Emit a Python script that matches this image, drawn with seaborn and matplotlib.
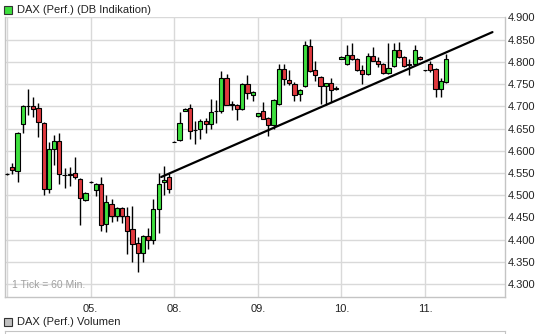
import matplotlib
matplotlib.use("Agg")
import matplotlib.pyplot as plt
from matplotlib.patches import Rectangle
import seaborn as sns
import numpy as np
import pandas as pd

# ---- data (hourly candles, index = candle number) ----
opens = [4547, 4563, 4554, 4661, 4700, 4700, 4697, 4663, 4515, 4603, 4622, 4546, 4546, 4551, 4537, 4490,
         4530, 4511, 4525, 4435, 4481, 4454, 4471, 4454, 4423, 4393, 4369, 4409, 4400, 4468, 4530, 4540,
         4620, 4624, 4690, 4697, 4646, 4648, 4668, 4660, 4690, 4690, 4764, 4704, 4704, 4693, 4751, 4725,
         4678, 4690, 4674, 4657, 4706, 4785, 4760, 4751, 4728, 4745, 4835, 4781, 4766, 4745, 4752, 4740,
         4807, 4796, 4816, 4806, 4782, 4773, 4813, 4803, 4796, 4775, 4790, 4827, 4811, 4792, 4796, 4811,
         4781, 4796, 4784, 4740, 4755]
highs = [4549, 4573, 4643, 4703, 4740, 4722, 4707, 4665, 4620, 4635, 4641, 4561, 4563, 4585, 4539, 4508,
         4531, 4527, 4540, 4500, 4491, 4474, 4474, 4474, 4475, 4406, 4411, 4427, 4491, 4549, 4565, 4549,
         4622, 4687, 4696, 4706, 4668, 4672, 4674, 4717, 4715, 4779, 4773, 4713, 4706, 4752, 4770, 4734,
         4686, 4710, 4676, 4717, 4796, 4796, 4781, 4755, 4738, 4848, 4852, 4803, 4768, 4753, 4764, 4745,
         4814, 4837, 4842, 4808, 4792, 4820, 4833, 4811, 4798, 4843, 4842, 4845, 4813, 4807, 4837, 4813,
         4782, 4803, 4786, 4764, 4818]
lows = [4545, 4547, 4529, 4639, 4680, 4676, 4631, 4500, 4505, 4567, 4526, 4516, 4520, 4536, 4434, 4487,
        4527, 4498, 4419, 4418, 4440, 4442, 4438, 4367, 4350, 4327, 4350, 4380, 4391, 4414, 4500, 4504,
        4619, 4623, 4689, 4626, 4616, 4627, 4640, 4650, 4662, 4684, 4702, 4691, 4670, 4692, 4717, 4713,
        4677, 4672, 4633, 4650, 4704, 4747, 4747, 4713, 4713, 4743, 4777, 4758, 4706, 4704, 4710, 4736,
        4806, 4792, 4804, 4780, 4751, 4771, 4801, 4789, 4773, 4773, 4788, 4809, 4788, 4770, 4794, 4805,
        4780, 4777, 4721, 4721, 4753]
closes = [4547, 4556, 4641, 4700, 4701, 4695, 4665, 4513, 4603, 4622, 4547, 4546, 4547, 4540, 4493, 4506,
          4530, 4525, 4432, 4484, 4453, 4471, 4454, 4420, 4391, 4369, 4409, 4399, 4468, 4526, 4535, 4513,
          4620, 4663, 4695, 4644, 4646, 4667, 4661, 4687, 4690, 4764, 4704, 4704, 4693, 4751, 4730, 4732,
          4684, 4672, 4659, 4715, 4785, 4762, 4752, 4726, 4736, 4837, 4779, 4770, 4745, 4752, 4736, 4740,
          4812, 4816, 4806, 4782, 4773, 4813, 4803, 4796, 4775, 4786, 4827, 4811, 4790, 4796, 4827, 4807,
          4781, 4782, 4740, 4756, 4807]

day_start_idx = [0, 16, 32, 48, 64, 80]
day_labels = ["", "05.", "08.", "09.", "10.", "11."]
y_ticks = [4300, 4350, 4400, 4450, 4500, 4550, 4600, 4650, 4700, 4750, 4800, 4850, 4900]
y_labels = ["4.300", "4.350", "4.400", "4.450", "4.500", "4.550", "4.600", "4.650",
            "4.700", "4.750", "4.800", "4.850", "4.900"]
trend_x = [29.5, 92.9]
trend_y = [4541, 4867]

GREEN = "#3ee03e"
RED = "#e0393e"
GRID = "#d9d9d9"
FRAME = "#c4c4c4"

sns.set_style("white")
plt.rcParams["font.family"] = ["Liberation Sans", "DejaVu Sans"]

W, H = 543, 334
fig = plt.figure(figsize=(W / 100, H / 100), dpi=100)
ax = fig.add_axes([5 / W, 37 / H, 500 / W, 280 / H])

df = pd.DataFrame({"o": opens, "h": highs, "l": lows, "c": closes})
df["x"] = np.arange(len(df))
df["up"] = df["c"] >= df["o"]
df["bottom"] = df[["o", "c"]].min(axis=1)
df["height"] = (df["c"] - df["o"]).abs().clip(lower=0.3)

# wicks
ax.vlines(df["x"], df["l"], df["h"], color="black", linewidth=1.0, zorder=2)
# bodies
colors = [GREEN if u else RED for u in df["up"]]
ax.bar(df["x"], df["height"], bottom=df["bottom"], width=0.8, color=colors,
       edgecolor="black", linewidth=0.8, zorder=3)

# trendline
sns.lineplot(x=trend_x, y=trend_y, ax=ax, color="black", linewidth=1.6, zorder=4)

ax.set_xlim(-0.4, 95.3)
ax.set_ylim(4271, 4901)
ax.set_xticks(day_start_idx)
ax.set_xticklabels(day_labels, fontsize=8, color="#222222")
ax.set_yticks(y_ticks)
ax.set_yticklabels(y_labels, fontsize=8, color="#222222")
ax.yaxis.tick_right()
ax.tick_params(axis="both", length=0)
ax.tick_params(axis="y", pad=2)
ax.tick_params(axis="x", pad=5)
ax.grid(True, color=GRID, linewidth=1.0, zorder=0)
ax.set_axisbelow(True)
for s in ax.spines.values():
    s.set_color(FRAME)
    s.set_linewidth(1.0)
ax.spines["top"].set_visible(False)

ax.text(0.013, 0.025, "1 Tick = 60 Min.", transform=ax.transAxes, fontsize=7.5,
        color="#a0a0a0", ha="left", va="bottom")

# volume panel (cut off)
vax = fig.add_axes([5 / W, -0.05, 500 / W, 0.05 + 3 / H])
vax.set_xticks([])
vax.set_yticks([])
for s in vax.spines.values():
    s.set_color(FRAME)

# legend headers
fig.patches.append(Rectangle((4 / W, 1 - 14 / H), 8 / W, 8 / H, transform=fig.transFigure,
                             facecolor=GREEN, edgecolor="#333333", linewidth=0.8))
fig.text(17 / W, 1 - 10 / H, "DAX (Perf.) (DB Indikation)", fontsize=8, va="center",
         ha="left", color="#222222")
fig.patches.append(Rectangle((4 / W, 1 - 326 / H), 8 / W, 8 / H, transform=fig.transFigure,
                             facecolor="#c0c0c0", edgecolor="#333333", linewidth=0.8))
fig.text(17 / W, 1 - 322 / H, "DAX (Perf.) Volumen", fontsize=8, va="center",
         ha="left", color="#222222")

fig.savefig("out.png", dpi=100, facecolor="white")
